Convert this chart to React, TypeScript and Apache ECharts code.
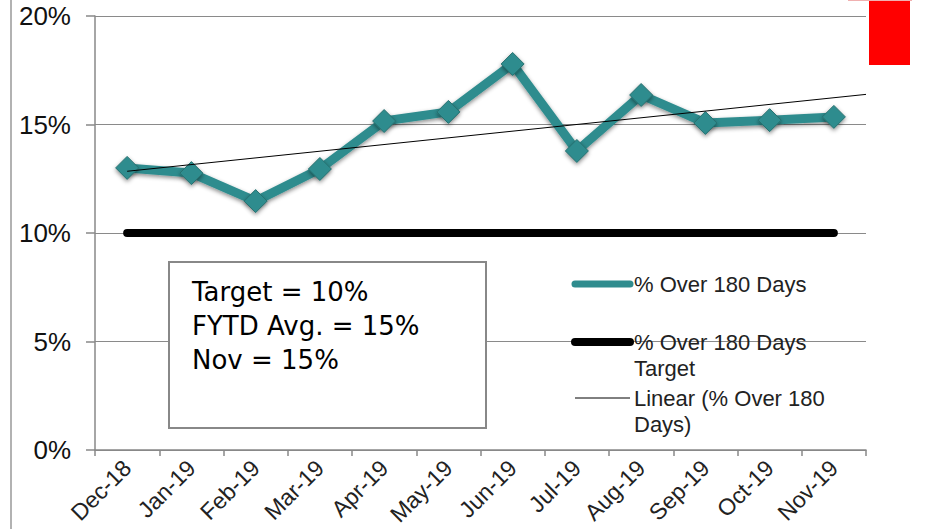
import React, { useEffect, useRef } from "react";
import * as echarts from "echarts";

const categories = ["Dec-18", "Jan-19", "Feb-19", "Mar-19", "Apr-19", "May-19", "Jun-19", "Jul-19", "Aug-19", "Sep-19", "Oct-19", "Nov-19"];
const over180 = [13.0, 12.76, 11.47, 12.95, 15.16, 15.58, 17.79, 13.78, 16.36, 15.07, 15.2, 15.35];
const target = [10, 10, 10, 10, 10, 10, 10, 10, 10, 10, 10, 10];
const yTicks = [0, 5, 10, 15, 20];
const boxLines = ["Target = 10%", "FYTD Avg. = 15%", "Nov = 15%"];
const legendNames = ["% Over 180 Days", "% Over 180 Days\nTarget", "Linear (% Over 180\nDays)"];

function regression(vals: number[]) {
  const n = vals.length;
  const mx = (n - 1) / 2;
  const my = vals.reduce((a, b) => a + b, 0) / n;
  let sxy = 0, sxx = 0;
  vals.forEach((v, i) => { sxy += (i - mx) * (v - my); sxx += (i - mx) * (i - mx); });
  const slope = sxy / sxx;
  const b = my - slope * mx;
  return (x: number) => b + slope * x;
}

export default function App() {
  const ref = useRef<HTMLDivElement>(null);
  useEffect(() => {
    const chart = echarts.init(ref.current!, null, { renderer: "svg" });
    const f = regression(over180);
    const trend = [[0, f(0)], [11.5, f(11.5)]];
    const teal = "#2F8C8E";
    const lf = "'Liberation Sans', Arial, sans-serif";
    chart.setOption({
      animation: false,
      backgroundColor: "#fff",
      grid: { left: 95, right: 66, top: 16, bottom: 79 },
      xAxis: [
        {
          type: "category",
          data: categories,
          boundaryGap: true,
          axisLine: { lineStyle: { color: "#888", width: 1.5 } },
          axisTick: { show: true, length: 6, lineStyle: { color: "#888", width: 1.5 } },
          axisLabel: { rotate: 45, fontSize: 23, color: "#222", fontFamily: lf, margin: 14, interval: 0 },
        },
        { type: "value", min: -0.5, max: 11.5, show: false },
      ],
      yAxis: {
        type: "value",
        min: 0,
        max: 20,
        interval: 5,
        axisLine: { show: true, onZero: false, lineStyle: { color: "#888", width: 1.5 } },
        axisTick: { show: true, length: 9, lineStyle: { color: "#888", width: 1.5 } },
        splitLine: { lineStyle: { color: "#8a8a8a", width: 1.2 } },
        axisLabel: { formatter: (v: number) => (yTicks.includes(v) ? v + "%" : ""), fontSize: 26, color: "#111", fontFamily: lf, margin: 24 },
      },
      series: [
        {
          name: "% Over 180 Days Target",
          type: "line",
          data: target,
          symbol: "none",
          lineStyle: { color: "#000", width: 8, cap: "round" },
          z: 2,
        },
        {
          name: "% Over 180 Days",
          type: "line",
          data: over180,
          symbol: "diamond",
          symbolSize: 23,
          lineStyle: { color: teal, width: 9, shadowColor: "rgba(0,0,0,0.45)", shadowBlur: 4, shadowOffsetY: 2 },
          itemStyle: { color: teal, borderColor: "#26706f", borderWidth: 1, shadowColor: "rgba(0,0,0,0.45)", shadowBlur: 4, shadowOffsetY: 2 },
          z: 3,
        },
        {
          name: "Linear (% Over 180 Days)",
          type: "line",
          xAxisIndex: 1,
          data: trend,
          symbol: "none",
          lineStyle: { color: "#000", width: 1 },
          z: 4,
        },
      ],
      graphic: [
        { type: "line", shape: { x1: 11, y1: 0, x2: 11, y2: 529 }, style: { stroke: "#999", lineWidth: 1.5 } },
        { type: "rect", shape: { x: 869, y: 0, width: 41, height: 65 }, style: { fill: "#FF0000" } },
        { type: "line", shape: { x1: 848, y1: 0.5, x2: 912, y2: 0.5 }, style: { stroke: "#f0b0b0", lineWidth: 1 } },
        { type: "rect", z: 10, shape: { x: 169, y: 262, width: 317, height: 166 }, style: { fill: "#fff", stroke: "#888", lineWidth: 2 } },
        ...boxLines.map((t, i) => ({
          type: "text", z: 11, x: 192, y: 292 + i * 34,
          style: { text: t, fill: "#000", font: "26px 'DejaVu Sans', sans-serif", textVerticalAlign: "middle" },
        })),
        { type: "line", z: 11, shape: { x1: 575, y1: 284, x2: 630, y2: 284 }, style: { stroke: teal, lineWidth: 7, lineCap: "round" } },
        { type: "line", z: 11, shape: { x1: 575, y1: 342, x2: 630, y2: 342 }, style: { stroke: "#000", lineWidth: 8, lineCap: "round" } },
        { type: "line", z: 11, shape: { x1: 575, y1: 398, x2: 630, y2: 398 }, style: { stroke: "#000", lineWidth: 1 } },
        ...legendNames.map((t, i) => ({
          type: "text", z: 11, x: 634, y: [271, 329, 385][i],
          style: { text: t, fill: "#222", font: "22px 'Liberation Sans', Arial, sans-serif", lineHeight: 26, textVerticalAlign: "top" },
        })),
      ],
    });
    return () => chart.dispose();
  }, []);
  return <div ref={ref} style={{ position: "fixed", left: 0, top: 0, width: 932, height: 529 }} />;
}
